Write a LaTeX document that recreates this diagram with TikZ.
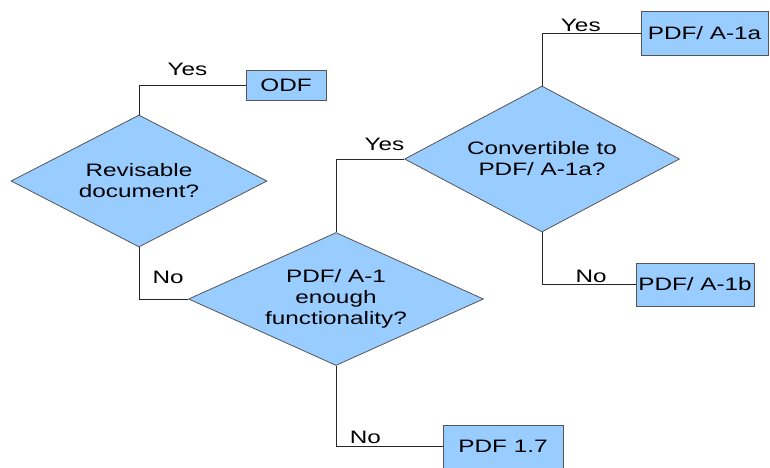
\documentclass[tikz,border=0pt]{standalone}
\usepackage{fontspec}
\setmainfont[FakeStretch=1.35]{Liberation Sans}
\usetikzlibrary{shapes.geometric}

\definecolor{boxblue}{HTML}{99CCFF}
\definecolor{rimgray}{HTML}{555555}

\tikzset{
  decision/.style={shape=diamond, aspect=2.2, draw=rimgray, fill=boxblue, inner sep=0pt, align=center, line width=0.8pt},
  outcome/.style={shape=rectangle, draw=rimgray, fill=boxblue, inner sep=0pt, line width=1pt},
  link/.style={draw=black!85, line width=0.8pt},
  lbl/.style={inner sep=0pt}
}

\begin{document}
\begin{tikzpicture}[x=1pt, y=-1pt, font=\fontsize{18}{21}\selectfont]
            \useasboundingbox (0, 0) rectangle (770, 467);

            \node[decision, minimum width=256pt, minimum height=132pt] (rev) at (139, 181){Revisable\\document?};
            \node[decision, minimum width=295pt, minimum height=133pt] (enough) at (336, 299){PDF/ A-1\\enough\\functionality?};
            \node[decision, minimum width=275pt, minimum height=146pt] (conv) at (542, 159){Convertible to\\PDF/ A-1a?};

            \node[outcome, minimum width=80pt, minimum height=30pt] (odf) at (286, 85){ODF};
            \node[outcome, minimum width=127pt, minimum height=44pt] (a1a) at (704.5, 33){PDF/ A-1a};
            \node[outcome, minimum width=118pt, minimum height=43pt] (a1b) at (695, 284.5){PDF/ A-1b};
            \node[outcome, minimum width=120pt, minimum height=43pt] (pdf17) at (503, 446.5){PDF 1.7};

            \draw [link] (rev.north) |- (odf.west) node[lbl, pos=0.727, above=9pt] {Yes};
            \draw [link] (rev.south) |- (enough.west) node[lbl, pos=0.796, above=15pt] {No};

            \draw [link] (enough.north) |- (conv.west) node[lbl, pos=0.855, above=8pt] {Yes};
            \draw [link] (enough.south) |- (pdf17.west) node[lbl, pos=0.638, above=2pt] {No};

            \draw [link] (conv.north) |- (a1a.west) node[lbl, pos=0.697, above=1pt] {Yes};
            \draw [link] (conv.south) |- (a1b.west) node[lbl, pos=0.763, above=1pt] {No};
        \end{tikzpicture}
\end{document}
